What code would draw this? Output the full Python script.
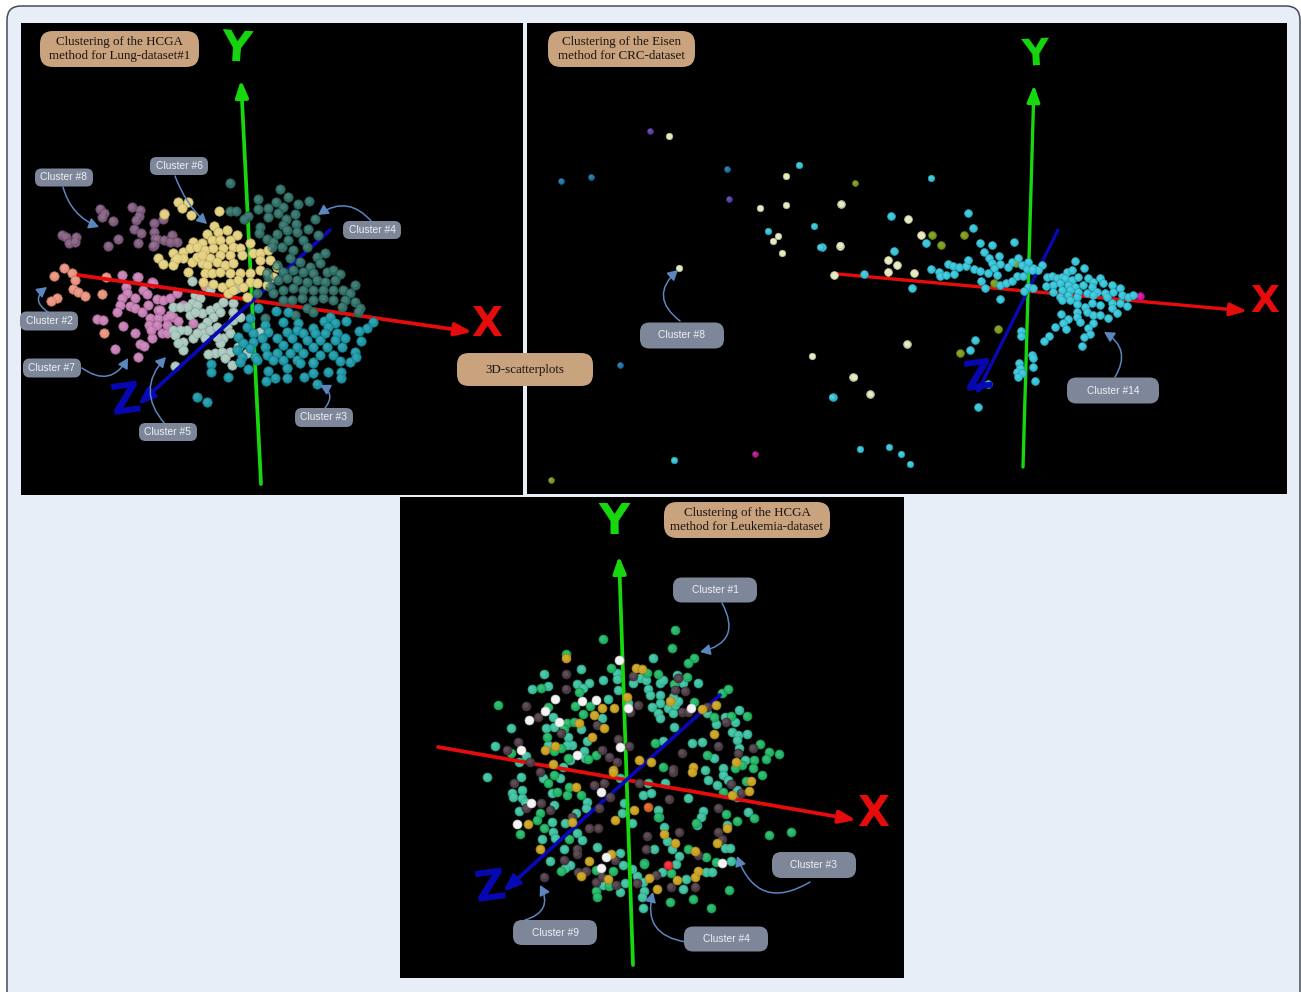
import numpy as np, pandas as pd, matplotlib
matplotlib.use("Agg")
import matplotlib.pyplot as plt, seaborn as sns
from matplotlib.patches import FancyBboxPatch, FancyArrowPatch, Rectangle

LUNG_ORIGIN = (20, 130); CRC_ORIGIN = (820, 190); LEUK_TOP = (470, 620); LEUK_BOT = (470, 770)

L8 = [(240,236),(252,250),(247,262),(278,273),(335,232),(360,240),(356,258),(348,270),(343,297),(364,310),(355,340),(295,327),(265,347),(125,314),(137,320),(168,322),(148,340),(165,335),(403,280),(428,268),(433,250),(403,305),(405,325),(412,327),(398,348),(432,330),(455,316),(470,335),(450,335),(403,345)]
L2 = [(133,414),(103,437),(155,430),(166,450),(158,476),(174,487),(196,497),(110,504),(94,513),(246,493),(258,440),(252,610),(556,468)]
L7 = [(307,436),(350,442),(395,457),(317,470),(322,490),(370,480),(380,493),(345,503),(305,505),(300,525),(330,527),(345,533),(365,545),(385,525),(292,545),(232,568),(250,570),(308,588),(344,610),(395,625),(360,643),(372,647),(285,656),(354,682),(415,540),(410,507),(430,510),(450,505),(470,490),(490,525),(390,565),(415,565),(440,565),(388,585),(410,585),(392,600),(425,610),(440,610),(460,560),(475,572),(520,578),(440,585),(420,540),(450,555),(355,440),(400,460)]
L5 = [(517,453),(525,495),(540,505),(515,520),(500,530),(530,525),(460,530),(480,530),(545,550),(510,555),(525,545),(570,540),(590,530),(610,515),(640,520),(600,545),(580,560),(560,575),(545,590),(520,625),(500,600),(480,600),(460,600),(465,615),(490,635),(490,660),(475,640),(550,610),(570,600),(590,590),(620,590),(640,570),(660,560),(610,625),(630,610),(600,640),(630,665),(585,670),(565,672),(605,665),(615,685),(465,707),(635,705),(655,650),(680,668),(640,545),(530,610),(570,480),(650,475),(720,605),(555,625),(590,620)]
L6 = [(473,217),(504,217),(485,233),(512,256),(432,252),(598,243),(582,288),(560,312),(595,305),(620,300),(650,315),(520,335),(545,340),(575,330),(600,330),(630,330),(490,365),(510,355),(530,350),(555,360),(580,355),(610,355),(640,350),(660,355),(690,340),(460,370),(415,385),(428,402),(465,390),(490,385),(515,395),(545,400),(570,385),(600,375),(630,375),(665,375),(700,370),(720,370),(745,360),(460,405),(505,425),(530,380),(560,405),(590,395),(615,405),(640,400),(720,390),(750,390),(770,410),(555,430),(575,430),(600,425),(630,430),(660,430),(690,430),(720,420),(760,440),(550,455),(580,462),(605,470),(630,460),(655,450),(690,455),(710,460),(740,465),(625,490),(640,480),(680,500),(670,470),(740,430),(470,385),(545,375)]
L4 = [(630,158),(780,177),(805,200),(867,214),(714,208),(767,216),(790,232),(833,222),(714,238),(745,235),(630,244),(647,244),(685,258),(672,268),(745,262),(775,250),(798,268),(825,253),(885,267),(720,292),(828,282),(790,285),(800,300),(865,297),(770,312),(830,305),(717,308),(740,327),(760,335),(785,350),(820,360),(860,350),(755,350),(805,330),(850,330),(895,315),(915,370),(890,380),(810,385),(840,395),(870,410),(900,400),(770,405),(790,425),(820,420),(850,425),(880,430),(920,425),(940,420),(960,432),(750,470),(775,450),(800,445),(830,450),(860,455),(890,450),(915,455),(945,450),(1005,465),(760,490),(790,480),(820,475),(850,480),(880,480),(910,480),(940,480),(970,480),(990,490),(790,510),(815,510),(845,505),(880,510),(910,505),(940,510),(975,510),(1005,515),(1020,535),(860,535),(880,545),(825,555),(965,530),(1015,545),(735,565),(745,440),(710,490),(740,430)]
L3 = [(715,535),(768,542),(805,545),(690,565),(912,572),(930,560),(945,578),(978,573),(1040,595),(1018,603),(1060,575),(680,590),(735,585),(790,575),(835,580),(880,595),(925,590),(655,620),(700,610),(745,605),(800,605),(830,600),(850,610),(885,610),(915,610),(950,610),(1022,632),(670,640),(700,635),(725,625),(770,625),(815,625),(860,630),(900,630),(945,630),(975,625),(650,660),(690,655),(735,650),(790,645),(830,650),(880,650),(920,650),(965,650),(1005,665),(665,680),(705,680),(740,675),(770,670),(810,670),(850,670),(900,675),(940,675),(990,695),(1008,682),(660,695),(710,690),(760,690),(790,690),(830,690),(880,695),(960,692),(685,718),(745,722),(800,715),(840,700),(880,700),(925,725),(963,727),(572,703),(573,727),(625,741),(738,752),(765,743),(800,745),(852,740),(880,728),(962,745),(890,762),(530,800),(560,817)]

C_CYAN = [(5,172),(212,78),(445,70),(458,113),(479,158),(515,165),(581,156),(317,158),(221,183),(491,187),(508,205),(536,198),(515,220),(541,222),(523,235),(565,230),(575,215),(595,205),(605,225),(625,215),(385,222),(400,227),(417,232),(438,228),(445,210),(333,237),(357,245),(360,258),(377,256),(401,252),(463,238),(479,243),(503,250),(531,254),(620,238),(640,235),(665,225),(655,240),(635,240),(275,295),(482,272),(495,295),(540,285),(558,280),(575,273),(590,258),(610,258),(625,290),(640,295),(612,302),(541,328),(133,252),
 (680,262),(695,258),(710,265),(725,260),(740,245),(757,240),(792,235),(765,212),(735,265),(755,270),(775,262),(805,265),(840,265),(820,275),(678,287),(700,285),(720,280),(745,285),(765,290),(790,285),(815,290),(850,280),(875,285),(900,295),(700,305),(725,300),(750,300),(775,305),(800,310),(830,305),(855,310),(880,305),(905,315),(925,320),(940,315),(720,320),(745,315),(770,320),(820,315),(860,320),(725,330),(750,330),
 (770,343),(795,350),(817,338),(840,345),(875,340),(900,340),(920,348),(770,365),(800,365),(820,375),(840,375),(875,355),(890,370),(865,385),(722,373),(745,388),(770,380),(780,395),(730,400),(738,418),(705,410),(820,400),(803,415),(810,433),(793,442),(686,437),(673,454),(785,468),(602,422),(602,438),(466,450),(449,481),(636,495),(638,505),(597,520),(640,531),(600,535),(590,545),(606,550),(594,560),(644,572),(505,583),(474,652),(38,622)]
C_PALE = [(63,43),(264,88),(302,136),(59,167),(204,210),(204,245),(42,255),(281,248),(260,462),(100,561),(151,611),(231,226)]
C_OLIVE = [(337,136),(364,164),(431,135),(589,220),(521,279),(535,417),(419,490)]
C_MAGENTA = [(960,319)]
# outlying CRC points, whole-picture pixels
CO_PALE = [(669,136),(786,176),(760,208),(786,205),(841,204),(778,236),(773,241),(782,253),(840,245),(679,268),(812,356),(907,344),(854,377),(870,394)]
CO_CYAN = [(799,165),(931,178),(814,226),(768,231),(820,247),(832,397),(674,460),(860,449),(889,447),(901,454),(910,464)]
CO_BLUE = [(561,181),(591,177),(727,169),(620,365)]
CO_PURPLE = [(650,131),(729,199)]
CO_OLIVE = [(855,183),(551,480)]
CO_MAGENTA = [(755,454)]

T_TEAL = [(548,113),(221,162),(334,147),(400,180),(185,207),(235,198),(320,193),(357,190),(338,203),(440,160),(442,176),(445,210),(510,173),(528,180),(490,190),(570,188),(578,180),(535,207),(540,225),(570,225),(570,250),(545,260),(565,280),(570,295),(595,265),(610,280),(615,255),(625,243),(610,232),(620,165),(640,190),(683,188),(413,238),(475,248),(395,295),(333,328),(248,290),(227,325),(252,322),(124,325),(295,350),(351,362),(306,375),(290,375),(235,375),(342,392),(345,415),(74,377),(167,408),(146,425),(612,321),(579,362),(666,370),(696,365),(732,415),(710,280),(765,290),(808,269),(795,305),(738,312),(785,337),(803,345),(832,342),(802,360),(808,385),(825,420),(760,445),(705,450),(280,440),(300,420)]
T_GREEN = [(289,102),(398,57),(614,30),(605,85),(672,113),(654,128),(423,143),(532,158),(565,162),(652,170),(612,192),(213,204),(327,216),(755,218),(775,208),(84,254),(673,245),(315,257),(359,258),(234,262),(338,282),(290,308),(312,306),(281,328),(232,350),(731,292),(782,288),(830,288),(555,368),(272,385),(253,393),(122,400),(295,415),(355,417),(377,405),(869,372),(897,395),(927,402),(889,417),(852,420),(710,405),(578,440),(815,435),(850,445),(795,445)]
T_DARK = [(288,163),(287,206),(168,257),(205,292),(380,315),(145,365),(110,390),(272,340),(180,425),(395,390),(445,358),(477,378),(418,410),(440,425),(625,175),(490,168),(615,210),(645,213),(503,256),(480,275),(635,275),(655,275),(710,260),(767,305),(745,377),(635,398),(848,385),(805,400),(608,447)]
T_GOLD = [(287,115),(499,143),(517,148),(397,263),(433,265),(373,285),(403,323),(326,310),(366,350),(255,378),(226,390),(250,432),(508,420),(543,425),(695,268),(738,255),(732,343),(600,242),(470,230),(797,425),(670,440),(430,450)]
T_WHITE = [(255,238),(337,243),(377,239),(225,273),(178,301),(267,307),(152,389),(321,405),(447,120),(451,381),(662,265),(473,265)]

B_TEAL = [(50,22),(152,20),(220,25),(127,68),(155,60),(130,80),(155,85),(165,97),(146,123),(252,105),(245,70),(270,25),(350,95),(318,128),(348,115),(245,155),(285,160),(248,185),(215,208),(255,205),(320,190),(335,210),(380,232),(240,272),(300,285),(285,295),(450,25),(533,40),(585,38),(655,85),(715,30),(740,45),(760,15),(775,30),(800,80),(800,60),(835,125),(700,122),(693,140),(680,165),(565,120),(567,140),(456,130),(487,160),(520,75),(542,70),(463,100),(582,172),(590,213),(607,238),(552,238),(627,258),(450,250),(460,285),(523,280),(500,318),(465,340),(450,365),(400,345),(520,335),(522,362),(517,380),(520,415),(577,305),(618,283),(647,328),(640,358),(708,305),(725,305),(765,235),(780,235),(782,272),(770,165),(485,298),(283,238)]
B_GREEN = [(876,15),(828,33),(760,65),(235,40),(262,65),(290,75),(298,50),(332,75),(252,15),(210,128),(200,150),(151,192),(223,175),(297,207),(274,303),(378,300),(430,302),(522,282),(378,362),(382,380),(418,347),(565,140),(655,238),(708,260),(737,276),(604,310),(768,133),(802,152),(851,145),(898,194),(963,186),(778,360),(670,388),(723,414),(600,397),(678,160)]
B_DARK = [(133,40),(213,100),(240,120),(168,115),(372,45),(402,38),(420,80),(388,113),(358,175),(385,175),(305,140),(320,237),(320,252),(282,270),(323,307),(347,303),(378,337),(395,320),(435,270),(437,345),(500,340),(223,320),(508,40),(596,87),(532,197),(627,187),(528,238),(557,314),(602,350),(676,350),(685,255),(745,113),(783,42),(813,68),(745,185),(755,208),(210,5),(608,5)]
B_GOLD = [(173,163),(211,238),(318,50),(307,157),(357,274),(333,318),(415,326),(423,253),(491,120),(436,150),(582,192),(616,218),(675,242),(536,325),(561,356),(621,330),(676,320),(684,302),(772,173),(742,220),(838,62),(843,32),(785,75),(430,5),(665,5)]
B_WHITE = [(183,100),(142,162),(392,65),(408,260),(393,295),(755,280)]
B_ORANGE = [(533,110)]
B_RED = [(595,285)]

TITLES = [("Clustering of the HCGA\nmethod for Lung-dataset#1",119.5,49,159,36),
          ("Clustering of the Eisen\nmethod for CRC-dataset",621.5,49,147,36),
          ("Clustering of the HCGA\nmethod for Leukemia-dataset",747,520,166,36),
          ("3D-scatterplots",525,369.5,136,33)]
LABELS = [("Cluster #8",64,177.5,58,18,(63,187),(99,227),0.25),
          ("Cluster #6",179,166,58,18,(175,176),(207,224),0.12),
          ("Cluster #4",372,230,58,18,(372,222),(318,215),0.45),
          ("Cluster #2",49,321,58,19,(48,312),(47,287),-0.7),
          ("Cluster #7",52,368,58,19,(82,368),(128,358),0.55),
          ("Cluster #5",168,432,58,18,(165,424),(166,357),-0.45),
          ("Cluster #3",324,417.5,58,19,(325,408),(320,385),0.6),
          ("Cluster #8",682,335.5,84,26,(680,321),(678,270),-0.6),
          ("Cluster #14",1113,390.5,92,26,(1115,377),(1104,332),0.5),
          ("Cluster #1",715,590,84,25,(722,603),(700,652),-0.65),
          ("Cluster #3",814,865,84,26,(810,882),(737,856),-0.6),
          ("Cluster #4",726,939,84,25,(686,942),(653,892),-0.55),
          ("Cluster #9",555,932.5,84,25,(525,920),(540,885),0.6)]

BG, TAN, PILL, CURVE = "#E8EEF8", "#C9A27E", "#7D8799", "#5B86BE"
RED, GREEN, BLUE = "#E60C0C", "#17D70F", "#0808B4"
sns.set_theme(style="white")
plt.rcParams["font.family"] = ["Liberation Sans", "DejaVu Sans"]

fig = plt.figure(figsize=(13.01, 9.92), dpi=100, facecolor="white")
ax = fig.add_axes([0, 0, 1, 1]); ax.set_xlim(0, 1301); ax.set_ylim(992, 0); ax.axis("off")

ax.add_patch(FancyBboxPatch((17, 16), 1273, 1000, boxstyle="round,pad=10,rounding_size=14", fc=BG, ec="#454B57", lw=1.1, zorder=0))
for x0, y0, x1, y1 in [(21, 23, 523, 495), (527, 23, 1287, 494), (400, 497, 904, 978)]:
    ax.add_patch(Rectangle((x0, y0), x1-x0, y1-y0, fc="black", ec="none", zorder=1))

def px(pts, origin=None):
    a = np.array(pts, float)
    if origin is not None:
        a = a / 3 + np.array(origin)
    return a

def balls(pts, color, s, z, origin=None):
    a = px(pts, origin)
    df = pd.DataFrame({"x": a[:, 0], "y": a[:, 1]})
    rgb = matplotlib.colors.to_rgb(color)
    dark = tuple(0.8*c for c in rgb)
    light = tuple(c + (1-c)*0.22 for c in rgb)
    sns.scatterplot(data=df, x="x", y="y", ax=ax, s=s, color=color, edgecolor=dark, linewidth=0.5, legend=False, zorder=z)
    sns.scatterplot(data=df.assign(x=df.x-0.3, y=df.y-0.5), x="x", y="y", ax=ax, s=s*0.35, color=light, edgecolor="none", alpha=0.45, legend=False, zorder=z+0.01)

def axis3d(p0, p1, color, z, head=10, lw=2.7):
    ax.add_patch(FancyArrowPatch(p0, p1, arrowstyle="-|>,head_length=1.0,head_width=0.38", mutation_scale=head, color=color, lw=lw, shrinkA=0, shrinkB=0, zorder=z))

def letter(s, x, y, color, size=30, rot=0, z=6):
    ax.text(x, y, s, color=color, fontsize=size, fontweight="bold", ha="center", va="center", rotation=rot, family="DejaVu Sans", zorder=z)

# Lung panel
S1 = 46
for pts, c in [(L8, "#7E5B7C"), (L2, "#E8917C"), (L7, "#C67EB4"), (L5, "#A9C8BD")]:
    balls(pts, c, S1, 3, LUNG_ORIGIN)
axis3d((78, 275), (472, 332), RED, 3.5); axis3d((261, 484), (241, 80), GREEN, 3.5); axis3d((330, 230), (138, 405), BLUE, 3.5)
for pts, c in [(L6, "#E3CF7C"), (L4, "#2F6F66"), (L3, "#1C97A6")]:
    balls(pts, c, S1, 4, LUNG_ORIGIN)
letter("X", 487, 325, RED, 29); letter("Y", 236, 49, GREEN, 30, -4); letter("Z", 125, 401, BLUE, 30, 8)

# CRC panel
S2 = 32
axis3d((838, 274), (1247, 311), RED, 3, lw=2.4); axis3d((1023, 467), (1034, 85), GREEN, 3, lw=2.4); axis3d((1058, 230), (976, 395), BLUE, 3.1, head=4, lw=2.4)
balls(C_PALE, "#E6E8BE", S2, 4, CRC_ORIGIN); balls(C_OLIVE, "#7A9A1A", S2, 4, CRC_ORIGIN); balls(C_MAGENTA, "#D00FA0", S2, 4, CRC_ORIGIN)
balls(C_CYAN, "#34C4D8", S2, 4, CRC_ORIGIN)
balls(CO_PALE, "#E6E8BE", 22, 4); balls(CO_CYAN, "#34C4D8", 22, 4); balls(CO_BLUE, "#1E74A8", 18, 4)
balls(CO_PURPLE, "#5A3FA5", 18, 4); balls(CO_OLIVE, "#7A9A1A", 18, 4); balls(CO_MAGENTA, "#B01A90", 18, 4)
letter("X", 1265, 302, RED, 27); letter("Y", 1035, 55, GREEN, 27, 3); letter("Z", 978, 378, BLUE, 29, 8)

# Leukemia panel
S3 = 42
for org, te, gr in [(LEUK_TOP, T_TEAL, T_GREEN), (LEUK_BOT, B_TEAL, B_GREEN)]:
    balls(te, "#3ABF9F", S3, 3, org); balls(gr, "#1FB463", S3, 3.1, org)
axis3d((438, 747), (856, 820), RED, 3.5); axis3d((633, 965), (619, 556), GREEN, 3.5); axis3d((720, 695), (503, 892), BLUE, 3.5)
for org, da, go, wh in [(LEUK_TOP, T_DARK, T_GOLD, T_WHITE), (LEUK_BOT, B_DARK, B_GOLD, B_WHITE)]:
    balls(da, "#4C3B44", S3, 4, org); balls(go, "#C9A11E", S3, 4.1, org); balls(wh, "#F4F4F4", S3, 4.2, org)
balls(B_ORANGE, "#D9641E", S3, 4.2, LEUK_BOT); balls(B_RED, "#E8262E", S3, 4.2, LEUK_BOT)
letter("X", 873, 814, RED, 30); letter("Y", 614, 522, GREEN, 31); letter("Z", 490, 888, BLUE, 31, 8)

def pill(cx, cy, w, h, color):
    r = h * 0.36
    ax.add_patch(FancyBboxPatch((cx-w/2+r, cy-h/2+r), w-2*r, h-2*r, boxstyle=f"round,pad={r},rounding_size={r}", fc=color, ec="none", zorder=7))

for txt, cx, cy, w, h in TITLES:
    pill(cx, cy, w, h, TAN)
    ax.text(cx, cy, txt, family="Liberation Serif", fontsize=9.4, color="#1A1410", ha="center", va="center", linespacing=1.3, zorder=8)

for txt, cx, cy, w, h, a, b, rad in LABELS:
    pill(cx, cy, w, h, PILL)
    ax.text(cx, cy, txt, fontsize=7.4, color="#EEF0F4", ha="center", va="center", zorder=8)
    ax.add_patch(FancyArrowPatch(a, b, connectionstyle=f"arc3,rad={rad}", arrowstyle="-|>,head_length=0.55,head_width=0.3", mutation_scale=11, color=CURVE, lw=1.1, shrinkA=0, shrinkB=0, zorder=6.5))

fig.savefig("out.png", dpi=100, facecolor="white")
